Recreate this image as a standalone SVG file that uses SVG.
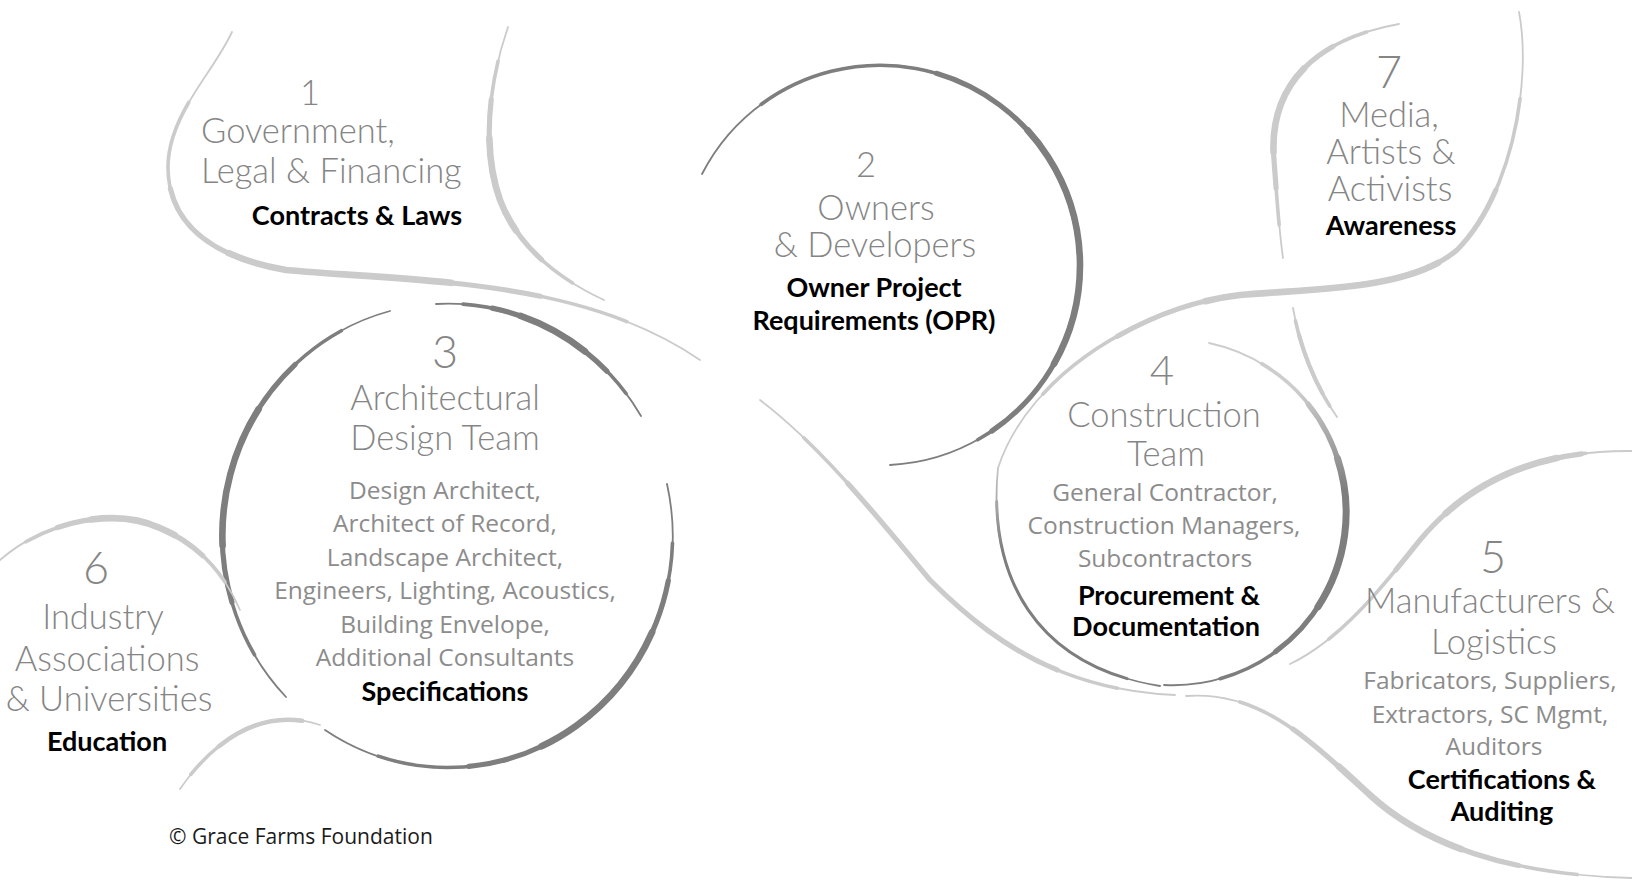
<svg xmlns="http://www.w3.org/2000/svg" width="1632" height="882" viewBox="0 0 1632 882">
<defs>
<style>
.l{fill:none;stroke:#cbcbcb;stroke-linecap:round}
.d{fill:none;stroke:#7e7e7e;stroke-linecap:round}
.w1{stroke-width:1.8}
.w2{stroke-width:3.6;stroke-dasharray:78 22;stroke-dashoffset:-11}
.w3{stroke-width:5.2;stroke-dasharray:54 46;stroke-dashoffset:-23}
.w4{stroke-width:6.6;stroke-dasharray:30 70;stroke-dashoffset:-35}
.num{font-family:Lato,"Open Sans",sans-serif;font-weight:300;font-size:45px;fill:#858585;text-anchor:middle}
.ttl{font-family:Lato,"Open Sans",sans-serif;font-weight:300;font-size:34.5px;fill:#858585;text-anchor:middle}
.sub{font-family:"Open Sans","Noto Sans",sans-serif;font-size:24.5px;fill:#8c8c8c;text-anchor:middle}
.bld{font-family:Lato,"Open Sans",sans-serif;font-weight:700;font-size:27px;fill:#000;text-anchor:middle}
.cpy{font-family:"Open Sans","Noto Sans",sans-serif;font-size:21px;fill:#1a1a1a}
</style>
<linearGradient id="g4" gradientUnits="userSpaceOnUse" x1="0" y1="390" x2="0" y2="490">
<stop offset="0" stop-color="#cdcdcd"/><stop offset="1" stop-color="#7e7e7e"/>
</linearGradient>
<linearGradient id="g4b" gradientUnits="userSpaceOnUse" x1="0" y1="470" x2="0" y2="550">
<stop offset="0" stop-color="#c4c4c4"/><stop offset="1" stop-color="#7e7e7e"/>
</linearGradient>
<path id="p1a" pathLength="100" d="M232,32 C212,75 168,115 168,167 C168,215 200,255 286,270 C420,282 580,278 700,360"/>
<path id="p1b" pathLength="100" d="M508,27 C488,85 482,150 500,200 C515,240 550,275 604,300"/>
<path id="p2" pathLength="100" d="M702,174 A200,200 0 1 1 890,465"/>
<path id="p3a" pathLength="100" d="M390,311 A225,232 0 0 0 286,697"/>
<path id="p3b" pathLength="100" d="M436,304 A225,232 0 0 1 641,416"/>
<path id="p3c" pathLength="100" d="M667,484 A225,232 0 0 1 325,730"/>
<path id="p4a" pathLength="100" d="M1209,343 A173,173 0 0 1 1164,685"/>
<path id="p4b" pathLength="100" d="M998,468 C988,570 1030,665 1160,686"/>
<path id="p5a" pathLength="100" d="M1632,451 C1540,450 1470,480 1420,540 C1380,590 1340,640 1290,664"/>
<path id="p5b" pathLength="100" d="M1186,696 C1260,690 1310,740 1370,795 C1430,850 1520,875 1632,878"/>
<path id="p6a" pathLength="100" d="M0,560 C40,525 110,505 160,528 C200,545 225,575 240,610"/>
<path id="p6b" pathLength="100" d="M180,789 C210,745 260,705 320,725"/>
<path id="p7a" pathLength="100" d="M1399,24 C1310,40 1268,90 1274,160 C1277,200 1279,230 1283,258"/>
<path id="p7b" pathLength="100" d="M1519,12 C1532,80 1512,195 1457,250 C1410,290 1320,288 1240,295 C1150,305 1030,370 998,468"/>
<path id="p7t" pathLength="100" d="M1293,308 C1300,350 1318,390 1337,417"/>
<path id="p24" pathLength="100" d="M760,400 C820,445 880,520 930,580 C990,640 1060,690 1175,695"/>
</defs>
<rect width="1632" height="882" fill="#ffffff"/>

<g id="connectors">
<use href="#p24" class="l w1"/><use href="#p24" class="l w2"/><use href="#p24" class="l w3"/>
<use href="#p7t" class="l w1"/><use href="#p7t" class="l w2"/><use href="#p7t" class="l w3" style="stroke-width:4"/>
</g>

<g id="node1">
<use href="#p1a" class="l w1"/><use href="#p1a" class="l w2"/><use href="#p1a" class="l w3"/><use href="#p1a" class="l w4"/>
<use href="#p1b" class="l w1"/><use href="#p1b" class="l w2"/><use href="#p1b" class="l w3"/><use href="#p1b" class="l w4"/>
<text class="ttl" x="310" y="105">1</text>
<text class="ttl" x="201" y="143" style="text-anchor:start">Government,</text>
<text class="ttl" x="201" y="183" style="text-anchor:start">Legal &amp; Financing</text>
<text class="bld" x="357" y="225">Contracts &amp; Laws</text>
</g>

<g id="node2">
<use href="#p2" class="d w1"/><use href="#p2" class="d w2"/><use href="#p2" class="d w3" style="stroke-dashoffset:-33"/><use href="#p2" class="d w4" style="stroke-dashoffset:-46"/>
<text class="ttl" x="866" y="177">2</text>
<text class="ttl" x="876" y="220">Owners</text>
<text class="ttl" x="875" y="257">&amp; Developers</text>
<text class="bld" x="874" y="297">Owner Project</text>
<text class="bld" x="874" y="330">Requirements (OPR)</text>
</g>

<g id="node3">
<use href="#p3a" class="d w1"/><use href="#p3a" class="d w2"/><use href="#p3a" class="d w3"/><use href="#p3a" class="d w4"/>
<use href="#p3b" class="d w1"/><use href="#p3b" class="d w2"/><use href="#p3b" class="d w3"/><use href="#p3b" class="d w4"/>
<use href="#p3c" class="d w1"/><use href="#p3c" class="d w2"/><use href="#p3c" class="d w3" style="stroke-dashoffset:-18"/><use href="#p3c" class="d w4" style="stroke-dashoffset:-28"/>
<text class="num" x="445" y="368">3</text>
<text class="ttl" x="445" y="410">Architectural</text>
<text class="ttl" x="445" y="450">Design Team</text>
<text class="sub" x="445" y="499">Design Architect,</text>
<text class="sub" x="445" y="532">Architect of Record,</text>
<text class="sub" x="445" y="566">Landscape Architect,</text>
<text class="sub" x="445" y="599">Engineers, Lighting, Acoustics,</text>
<text class="sub" x="445" y="633">Building Envelope,</text>
<text class="sub" x="445" y="666">Additional Consultants</text>
<text class="bld" x="445" y="701">Specifications</text>
</g>

<g id="node4">
<use href="#p4b" class="d w1" style="stroke:url(#g4b)"/><use href="#p4b" class="d w2" style="stroke:url(#g4b);stroke-width:3"/>
<use href="#p4a" class="d w1" style="stroke:url(#g4)"/><use href="#p4a" class="d w2" style="stroke:url(#g4)"/><use href="#p4a" class="d w3" style="stroke:url(#g4)"/><use href="#p4a" class="d w4" style="stroke:url(#g4);stroke-width:7"/>
<text class="num" x="1162" y="385" style="font-size:42px">4</text>
<text class="ttl" x="1164" y="427">Construction</text>
<text class="ttl" x="1166" y="466">Team</text>
<text class="sub" x="1165" y="501">General Contractor,</text>
<text class="sub" x="1164" y="534">Construction Managers,</text>
<text class="sub" x="1165" y="567">Subcontractors</text>
<text class="bld" x="1169" y="605">Procurement &amp;</text>
<text class="bld" x="1166" y="636">Documentation</text>
</g>

<g id="node5">
<use href="#p5a" class="l w1"/><use href="#p5a" class="l w2"/><use href="#p5a" class="l w3" style="stroke-dashoffset:-12"/><use href="#p5a" class="l w4" style="stroke-dashoffset:-18"/>
<use href="#p5b" class="l w1"/><use href="#p5b" class="l w2"/><use href="#p5b" class="l w3"/><use href="#p5b" class="l w4"/>
<text class="num" x="1493" y="573">5</text>
<text class="ttl" x="1490" y="613">Manufacturers &amp;</text>
<text class="ttl" x="1494" y="654">Logistics</text>
<text class="sub" x="1490" y="689">Fabricators, Suppliers,</text>
<text class="sub" x="1490" y="723">Extractors, SC Mgmt,</text>
<text class="sub" x="1494" y="755">Auditors</text>
<text class="bld" x="1502" y="789">Certifications &amp;</text>
<text class="bld" x="1502" y="821">Auditing</text>
</g>

<g id="node6">
<use href="#p6a" class="l w1"/><use href="#p6a" class="l w2"/><use href="#p6a" class="l w3"/><use href="#p6a" class="l w4"/>
<use href="#p6b" class="l w1"/><use href="#p6b" class="l w2"/><use href="#p6b" class="l w3" style="stroke-dashoffset:-35;stroke-width:4.5"/>
<text class="num" x="96" y="584">6</text>
<text class="ttl" x="103" y="629">Industry</text>
<text class="ttl" x="107" y="671">Associations</text>
<text class="ttl" x="109" y="711">&amp; Universities</text>
<text class="bld" x="107" y="751">Education</text>
</g>

<g id="node7">
<use href="#p7a" class="l w1"/><use href="#p7a" class="l w2"/><use href="#p7a" class="l w3"/><use href="#p7a" class="l w4"/>
<use href="#p7b" class="l w1"/><use href="#p7b" class="l w2"/><use href="#p7b" class="l w3"/><use href="#p7b" class="l w4"/>
<text class="num" x="1389" y="88">7</text>
<text class="ttl" x="1389" y="127">Media,</text>
<text class="ttl" x="1391" y="164">Artists &amp;</text>
<text class="ttl" x="1390" y="201">Activists</text>
<text class="bld" x="1391" y="235">Awareness</text>
</g>

<g id="copyright">
<text class="cpy" x="169" y="844">© Grace Farms Foundation</text>
</g>
</svg>
